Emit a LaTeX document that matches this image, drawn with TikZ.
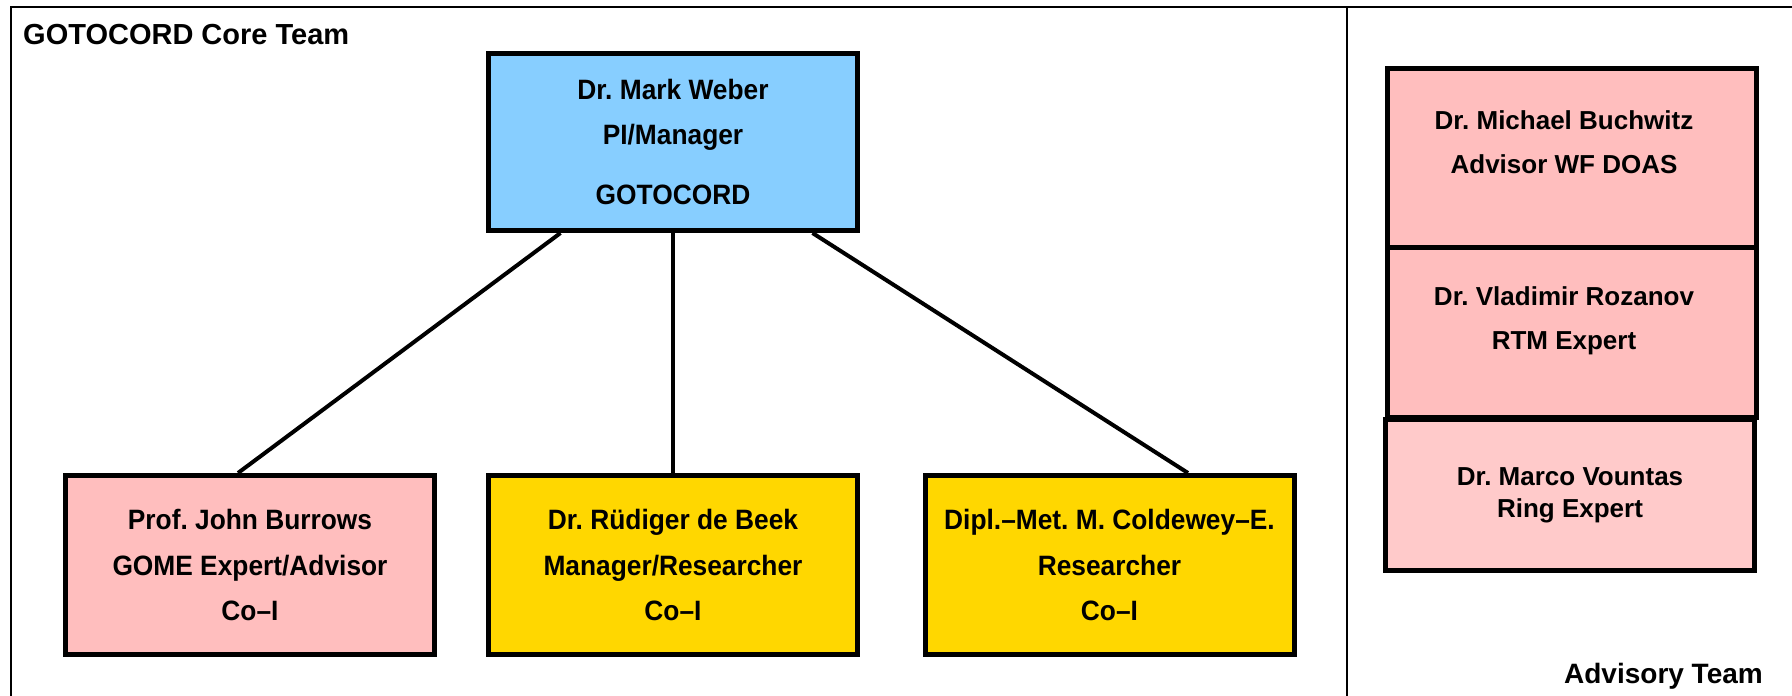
\documentclass[tikz,border=0pt]{standalone}
\usepackage{fontspec}
\setmainfont{Liberation Sans}
\newfontfamily\corefont[FakeStretch=0.94]{Liberation Sans}
\usetikzlibrary{positioning}
\definecolor{piblue}{RGB}{135,206,255}
\definecolor{coipink}{RGB}{255,190,190}
\definecolor{ringpink}{RGB}{255,202,202}
\definecolor{resyellow}{RGB}{255,215,0}
\frenchspacing

\begin{document}
\begin{tikzpicture}[x=1pt, y=-1pt,
    box/.style={rectangle, draw, line width=5pt, minimum width=369pt, minimum height=179pt, inner sep=0pt, align=center,
        font=\corefont\bfseries\fontsize{28}{45.5}\selectfont},
    advbox/.style={rectangle, draw, line width=5pt, fill=coipink, minimum width=369pt, inner sep=0pt},
    advtext/.style={inner sep=0pt, align=center, font=\bfseries\fontsize{26}{44}\selectfont},
    link/.style={line width=4pt}
]
    \useasboundingbox (0,0) rectangle (1792,696);

    % Frame and divider
    \draw[line width=2pt] (11,696) -- (11,6.5) -- (1792,6.5);
    \draw[line width=2pt] (1347,6.5) -- (1347,696);

    % Core team
    \node[anchor=base west, inner sep=0pt, font=\bfseries\fontsize{29}{34}\selectfont] (coreteam) at (23,45) {GOTOCORD Core Team};
    \node[box, fill=piblue, minimum height=177pt] (weber) at (673,142)
        {Dr. Mark Weber\\PI/Manager\\[14.5pt]GOTOCORD};
    \node[box, fill=coipink] (burrows) at (250,565)
        {Prof. John Burrows\\GOME Expert/Advisor\\Co–I};
    \node[box, fill=resyellow] (debeek) at (673,565)
        {Dr. Rüdiger de Beek\\Manager/Researcher\\Co–I};
    \node[box, fill=resyellow] (coldewey) at (1109.5,565)
        {Dipl.–Met. M. Coldewey–E.\\Researcher\\Co–I};

    % Links
    \draw[link] ([xshift=74.5pt]weber.south west) -- ([xshift=-12pt]burrows.north);
    \draw[link] (weber.south) -- (debeek.north);
    \draw[link] ([xshift=-47.5pt]weber.south east) -- ([xshift=78.5pt]coldewey.north);

    % Advisory team
    \node[advbox, minimum height=178.5pt] (buchwitz) at (1572,157.75) {};
    \node[advtext] (buchwitzname) at ([xshift=-8pt,yshift=16pt]buchwitz.center)
        {Dr. Michael Buchwitz\\Advisor WF DOAS};
    \node[advbox, minimum height=170pt] (rozanov) at (1572,332) {};
    \node[advtext] (rozanovname) at ([xshift=-8pt,yshift=11.5pt]rozanov.center)
        {Dr. Vladimir Rozanov\\RTM Expert};
    \node[advbox, fill=ringpink, minimum height=150.5pt, advtext, font=\bfseries\fontsize{26}{32}\selectfont] (vountas) at (1570,495)
        {Dr. Marco Vountas\\Ring Expert};
    \node[anchor=base east, inner sep=0pt, font=\bfseries\fontsize{28}{34}\selectfont] (advisoryteam) at (1763,683) {Advisory Team};
\end{tikzpicture}
\end{document}
